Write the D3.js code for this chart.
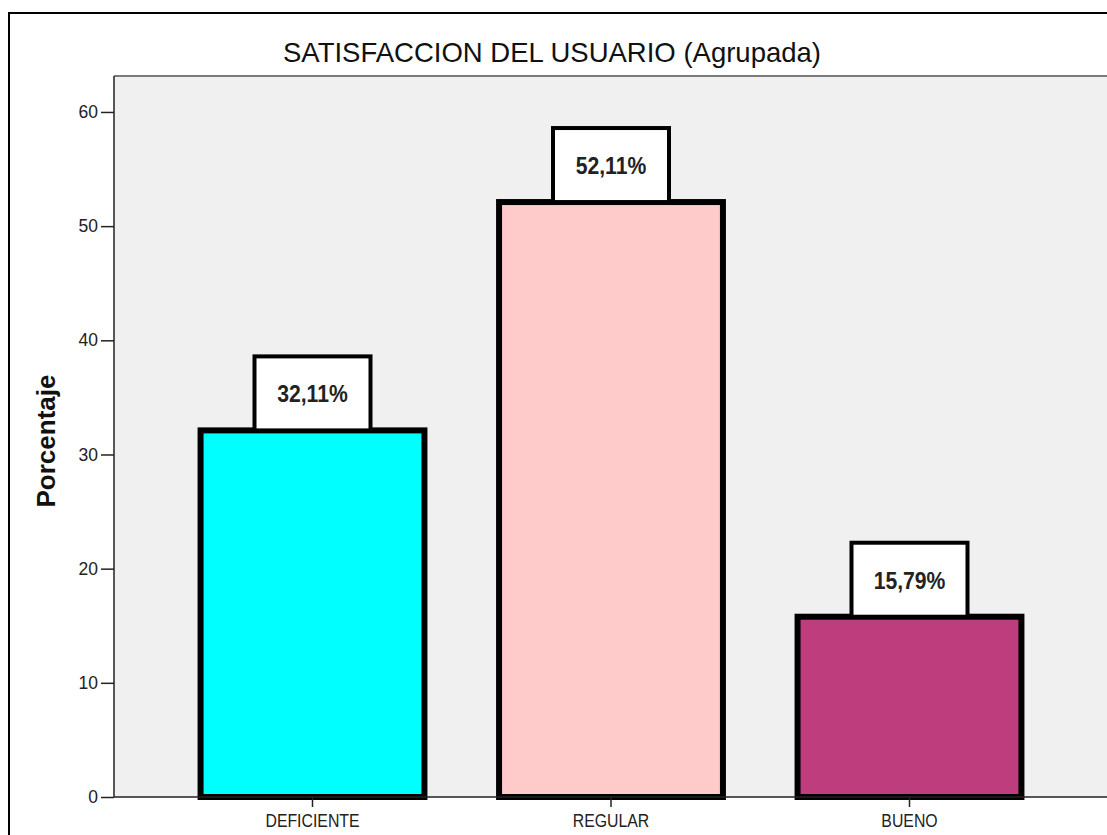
<!DOCTYPE html>
<html>
<head>
<meta charset="utf-8">
<script src="https://cdn.jsdelivr.net/npm/d3@7"></script>
<style>
  html, body { margin: 0; padding: 0; background: #fff; overflow: hidden; }
  svg { display: block; }
</style>
</head>
<body>
<svg id="chart" width="1107" height="835"></svg>
<script>
const categories = ["DEFICIENTE", "REGULAR", "BUENO"];
const values = [32.11, 52.11, 15.79];
const valueLabels = ["32,11%", "52,11%", "15,79%"];
const barColors = ["#00FFFF", "#FFCACA", "#BE3D7D"];
const yTicks = [0, 10, 20, 30, 40, 50, 60];
const titleText = "SATISFACCION DEL USUARIO (Agrupada)";
const yTitle = "Porcentaje";

const W = 1107, H = 835;
const plot = { left: 114, top: 76, right: 1108, bottom: 797 };
const FONT = "Liberation Sans, Arial, sans-serif";

const svg = d3.select("#chart");

// outer frame (top and left edges visible)
svg.append("line").attr("x1", 9).attr("x2", W).attr("y1", 13).attr("y2", 13)
  .attr("stroke", "#000").attr("stroke-width", 2);
svg.append("line").attr("x1", 9).attr("x2", 9).attr("y1", 12).attr("y2", H)
  .attr("stroke", "#000").attr("stroke-width", 2);

const y = d3.scaleLinear().domain([0, 63.15]).range([plot.bottom, plot.top]);
const x = d3.scaleBand().domain(categories)
  .range([plot.left, plot.right]).paddingInner(0.25).paddingOuter(0.29);

// plot background
svg.append("rect")
  .attr("x", plot.left).attr("y", plot.top)
  .attr("width", W - plot.left).attr("height", plot.bottom - plot.top)
  .attr("fill", "#F0F0F0");
svg.append("line")
  .attr("x1", plot.left).attr("x2", W)
  .attr("y1", plot.top).attr("y2", plot.top)
  .attr("stroke", "#7a7a7a").attr("stroke-width", 2);

// title
svg.append("text")
  .attr("x", 552).attr("y", 62)
  .attr("text-anchor", "middle")
  .attr("font-family", FONT)
  .attr("font-size", 27.5)
  .attr("fill", "#111")
  .text(titleText);

// bars
const data = categories.map((c, i) => ({ c, v: values[i], lab: valueLabels[i], col: barColors[i] }));

svg.selectAll("rect.bar").data(data).enter().append("rect")
  .attr("class", "bar")
  .attr("x", d => x(d.c))
  .attr("y", d => y(d.v))
  .attr("width", x.bandwidth())
  .attr("height", d => y(0) - y(d.v))
  .attr("fill", d => d.col)
  .attr("stroke", "#000")
  .attr("stroke-width", 6);

// label boxes
const boxW = 116, boxH = 74;
const g = svg.selectAll("g.lab").data(data).enter().append("g").attr("class", "lab")
  .attr("transform", d => `translate(${x(d.c) + x.bandwidth() / 2},${y(d.v)})`);
g.append("rect")
  .attr("x", -boxW / 2)
  .attr("y", -boxH)
  .attr("width", boxW).attr("height", boxH)
  .attr("fill", "#fff").attr("stroke", "#000").attr("stroke-width", 4);
g.append("text")
  .attr("x", 0)
  .attr("y", -boxH / 2 + 9)
  .attr("transform", "scale(0.9,1)")
  .attr("text-anchor", "middle")
  .attr("font-family", FONT)
  .attr("font-weight", "bold")
  .attr("font-size", 23.5)
  .attr("fill", "#222")
  .text(d => d.lab);

// y axis
const yAxis = d3.axisLeft(y).tickValues(yTicks).tickSize(13).tickPadding(3).tickFormat(d3.format("d"));
const ya = svg.append("g").attr("transform", `translate(${plot.left},0)`).call(yAxis);
ya.select(".domain").attr("stroke", "#222").attr("stroke-width", 1.5).attr("d", `M0,${plot.top}V${plot.bottom}`);
ya.selectAll(".tick line").attr("stroke", "#222").attr("stroke-width", 1.5);
ya.selectAll(".tick text").attr("font-family", FONT)
  .attr("font-size", 17.5).attr("fill", "#222");

// x axis
const xAxis = d3.axisBottom(x).tickSize(10).tickPadding(7);
const xa = svg.append("g").attr("transform", `translate(0,${plot.bottom})`).call(xAxis);
xa.select(".domain").attr("stroke", "#222").attr("stroke-width", 1.5).attr("d", `M${plot.left},0H${W}`);
xa.selectAll(".tick line").attr("stroke", "#222").attr("stroke-width", 1.5);
xa.selectAll(".tick text").attr("font-family", FONT)
  .attr("transform", "scale(0.88,1)")
  .attr("font-size", 18).attr("fill", "#222");

// y title
svg.append("text")
  .attr("transform", `translate(55,441) rotate(-90)`)
  .attr("text-anchor", "middle")
  .attr("font-family", FONT)
  .attr("font-weight", "bold")
  .attr("font-size", 26)
  .attr("fill", "#111")
  .text(yTitle);
</script>
</body>
</html>
